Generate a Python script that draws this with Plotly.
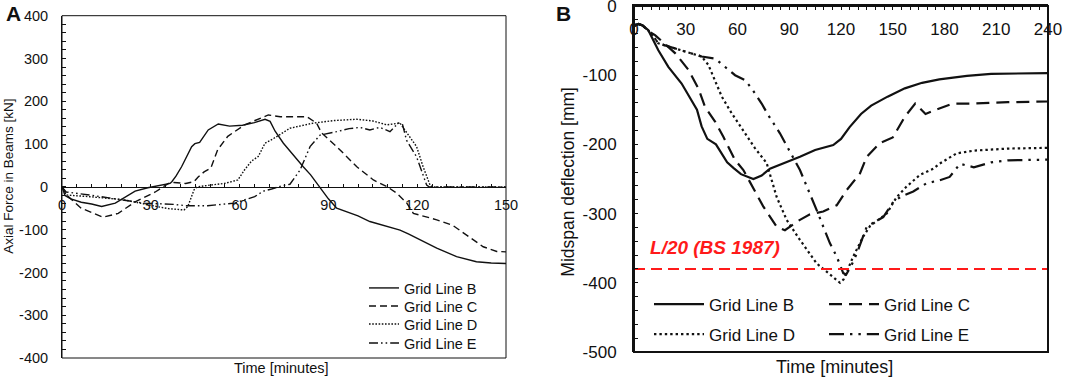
import plotly.graph_objects as go

FONT = "Liberation Sans, Arial, sans-serif"

# ---------------- Panel A : axial force in beams [kN] vs time [min] ----------------
a_t_B = [0, 1, 3, 6.5, 10, 13.4, 18, 24.7, 29, 33, 36.5, 37.1, 38.5, 40.4, 42, 43.8, 44.9, 46.5, 49.4,
         52.8, 56.6, 61, 65, 68.6, 70.3, 72, 74.8, 78, 81.5, 84, 87, 90, 92.8, 95, 100, 104, 109,
         114.2, 117, 120.9, 126.6, 133.3, 140, 145, 150]
a_v_B = [0, -20, -28, -36, -40, -46, -38, -10, -2, 3, 8, 12, 25, 47, 70, 94, 101, 104, 133,
         147, 142, 144, 150, 158, 153, 130, 102, 75, 47, 28, 0, -28, -50, -56, -68, -81, -90,
         -101, -110, -124, -143, -163, -175, -178, -179]

a_t_C = [0, 1.5, 6.5, 13.9, 19, 24.7, 31.5, 36, 37.8, 41.8, 44.6, 46, 48, 50.3, 52.6, 56, 61.7, 65,
         69.7, 73.7, 78, 82.7, 86, 87.7, 92.8, 99.6, 105.2, 109.7, 113.1, 116.5, 118.7, 126.6, 132,
         135.6, 142.3, 146.9, 150]
a_v_C = [0, -19, -50, -71, -62, -35, -12, 8, 10, 8, 12, 23, 35, 44, 87, 118, 145, 155,
         168, 164, 164, 164, 149, 126, 94, 47, 16, 1, -15, -38, -62, -77, -90,
         -108, -140, -151, -152]

a_t_D = [0, 1.4, 9.3, 20.7, 32, 36, 41.2, 42.5, 44.6, 45.7, 50, 54.9, 59.4, 61.7, 64, 66.3, 68.6,
         72, 77, 84.9, 92, 99.6, 105, 109.7, 114.2, 116.5, 119.8, 122, 124.3, 125, 130, 140, 150]
a_v_D = [0, -19, -23, -30, -46, -51, -54, -46, -7, 0, 4, 8, 16, 40, 60, 71, 102,
         115, 137, 149, 155, 158, 154, 145, 149, 126, 94, 47, 5, 0, 0, 0, 0]

a_t_E = [0, 1.4, 9.3, 20.7, 27.6, 37.8, 42, 49.2, 58.3, 65.1, 68, 70.8, 74, 77, 80.4, 83.8, 87.2,
         92.8, 97, 100.7, 104, 107.4, 110.8, 113.6, 115, 116.4, 119.8, 123.2, 124, 130, 140, 150]
a_v_E = [0, -12, -19, -30, -38, -41, -44, -44, -38, -23, -10, -5, 2, 6, 39, 94, 121,
         129, 136, 139, 133, 139, 129, 149, 147, 109, 70, 4, 0, 0, 0, 0]

a_xticks = [0, 30, 60, 90, 120, 150]
a_xticklabels = ["0", "30", "60", "90", "120", "150"]
a_yticks = [-400, -300, -200, -100, 0, 100, 200, 300, 400]
a_yticklabels = ["-400", "-300", "-200", "-100", "0", "100", "200", "300", "400"]

# ---------------- Panel B : midspan deflection [mm] vs time [min] ----------------
b_t_B = [0, 2.5, 5, 8.3, 14.1, 19.9, 27.6, 33.4, 36.5, 39.2, 42.5, 47.5, 54, 57.6, 62, 69.2, 74,
         78.8, 90, 96.2, 105, 115.5, 120, 125, 131.6, 137.5, 147, 157, 167, 177, 193, 207, 240]
b_v_B = [-29, -26, -28, -35, -64, -88, -112, -136, -150, -174, -192, -200, -226, -234, -243, -250, -245,
         -235, -224, -218, -208, -201, -192, -175, -156, -144, -131, -119, -111, -106, -101, -98, -97]

b_t_C = [0, 2.5, 5, 8, 12.2, 19, 23.8, 31.5, 37.3, 41.2, 47, 51.8, 58.4, 63.4, 69, 75, 82.7, 87.5,
         96.2, 102, 109.7, 117.5, 123.3, 131, 134.9, 142.6, 150, 157, 163, 169, 177, 185, 197, 216.7, 240]
b_v_C = [-29, -26, -28, -36, -42, -58, -68, -92, -119, -146, -167, -189, -222, -237, -263, -290, -319, -324,
         -309, -301, -297, -288, -266, -242, -218, -198, -190, -160, -141, -156, -148, -141, -141, -139, -138]

b_t_D = [0, 2.5, 5, 10.2, 14.1, 27.6, 39.2, 43.1, 47, 50.9, 56.6, 62.4, 70, 76.9, 82.7, 88.5, 96.2,
         105.9, 115.5, 119.4, 121.5, 127.1, 132.9, 136.8, 146.5, 152.3, 158, 165.8, 173.5, 177, 187,
         197, 217, 240]
b_v_D = [-29, -26, -28, -40, -54, -64, -73, -85, -107, -131, -155, -177, -205, -227, -276, -309, -338,
         -372, -391, -400, -395, -362, -333, -318, -300, -276, -261, -244, -235, -228, -213,
         -209, -206, -205]

b_t_E = [0, 2.5, 5, 10.2, 14.1, 27.6, 39.2, 47, 52.8, 58.6, 64.3, 68.2, 74, 77.9, 84.6, 96.2, 105.9,
         113.6, 117.5, 121.3, 123, 126, 129.1, 134.9, 144.5, 150.3, 155, 161.9, 169.7, 177, 183, 189,
         197, 207, 217, 240]
b_v_E = [-29, -26, -28, -40, -54, -64, -73, -76, -88, -100, -107, -119, -141, -158, -184, -237, -295,
         -343, -362, -386, -388, -375, -358, -319, -305, -283, -275, -268, -256, -252, -247, -228,
         -233, -226, -223, -222]

b_limit_t = [0, 240]
b_limit_v = [-380, -380]   # L/20 (BS 1987)

b_xticks = [0, 30, 60, 90, 120, 150, 180, 210, 240]
b_xticklabels = ["0", "30", "60", "90", "120", "150", "180", "210", "240"]
b_yticks = [-500, -400, -300, -200, -100, 0]
b_yticklabels = ["-500", "-400", "-300", "-200", "-100", "0"]

series_names = ["Grid Line B", "Grid Line C", "Grid Line D", "Grid Line E"]

# ---------------- figure geometry ----------------
W, H = 1065, 379


def px(x):  # screen x -> paper fraction
    return x / W


def py(y):  # screen y -> paper fraction
    return 1 - y / H


A_dom_x = [px(62), px(506)]
A_dom_y = [py(358), py(15.7)]
B_dom_x = [px(634), px(1048)]
B_dom_y = [py(352), py(6)]

fig = go.Figure()

a_dash = ["solid", "7px,4px", "1.6px,1.6px", "9px,3px,1.6px,3px,1.6px,3px"]
b_dash = ["solid", "13px,7px", "2.4px,3px", "15px,6px,2.4px,6px,2.4px,6px"]

a_data = [(a_t_B, a_v_B), (a_t_C, a_v_C), (a_t_D, a_v_D), (a_t_E, a_v_E)]
b_data = [(b_t_B, b_v_B), (b_t_C, b_v_C), (b_t_D, b_v_D), (b_t_E, b_v_E)]

a_legends = ["legend", "legend4", "legend5", "legend6"]
for name, (t, v), d, lg in zip(series_names, a_data, a_dash, a_legends):
    fig.add_trace(go.Scatter(x=t, y=v, mode="lines", name=name, xaxis="x", yaxis="y",
                             line=dict(color="#111", width=1.4, dash=d), legend=lg))

b_legends = ["legend2", "legend2", "legend3", "legend3"]
for name, (t, v), d, lg in zip(series_names, b_data, b_dash, b_legends):
    fig.add_trace(go.Scatter(x=t, y=v, mode="lines", name=name, xaxis="x2", yaxis="y2",
                             line=dict(color="#111", width=2.2, dash=d), legend=lg))

fig.add_trace(go.Scatter(x=b_limit_t, y=b_limit_v, mode="lines", xaxis="x2", yaxis="y2",
                         line=dict(color="#ff1a1a", width=2, dash="11px,6px"), showlegend=False,
                         hoverinfo="skip"))

tickfont_a = dict(family=FONT, size=14.5, color="#111")
tickfont_b = dict(family=FONT, size=17, color="#111")

legA_font = dict(family=FONT, size=14.5, color="#111")
legB_font = dict(family=FONT, size=17, color="#111")


def legA(row_center):
    return dict(x=px(364), y=py(row_center - 15), xanchor="left", yanchor="top",
                bgcolor="rgba(0,0,0,0)", font=legA_font, itemwidth=30)


def legB(row_center):
    return dict(x=px(649), y=py(row_center - 16.5), xanchor="left", yanchor="top",
                orientation="h", bgcolor="rgba(0,0,0,0)", font=legB_font,
                itemwidth=50, entrywidth=110, entrywidthmode="pixels")


def label(text, x, y, size, angle=0, color="#111"):
    return dict(text=text, x=px(x), y=py(y), xref="paper", yref="paper", xanchor="center",
                yanchor="middle", textangle=angle, showarrow=False,
                font=dict(family=FONT, size=size, color=color))


fig.update_layout(
    width=W, height=H,
    margin=dict(l=0, r=0, t=0, b=0, autoexpand=False),
    paper_bgcolor="white", plot_bgcolor="white",
    font=dict(family=FONT, color="#111"),
    xaxis=dict(domain=A_dom_x, range=[0, 150], anchor="free", position=(A_dom_y[0] + A_dom_y[1]) / 2,
               tickvals=a_xticks, ticktext=a_xticklabels, ticks="inside", ticklen=3, tickcolor="#111",
               minor=dict(dtick=5, ticks="inside", ticklen=3, tickcolor="#111"),
               showline=True, linecolor="#111", linewidth=1, showgrid=False, zeroline=False,
               tickfont=tickfont_a, ticklabelstandoff=5, automargin=False, ticklabeloverflow="allow"),
    yaxis=dict(domain=A_dom_y, range=[-400, 400], anchor="x", position=A_dom_x[0],
               tickvals=a_yticks, ticktext=a_yticklabels, ticks="inside", ticklen=4, tickcolor="#111",
               minor=dict(dtick=20, ticks="inside", ticklen=4, tickcolor="#111"),
               showline=True, linecolor="#111", linewidth=1, showgrid=False, zeroline=False,
               tickfont=tickfont_a, ticklabelstandoff=10, automargin=False, ticklabeloverflow="allow"),
    xaxis2=dict(domain=B_dom_x, range=[0, 240], anchor="y2", side="top",
                tickvals=b_xticks, ticktext=b_xticklabels, ticks="inside", ticklen=4, tickcolor="#111",
                minor=dict(dtick=5, ticks="inside", ticklen=4, tickcolor="#111"),
                ticklabelposition="inside", ticklabelstandoff=14, ticklabeloverflow="allow",
                showline=True, linecolor="#111", linewidth=2, showgrid=False, zeroline=False,
                tickfont=tickfont_b, automargin=False),
    yaxis2=dict(domain=B_dom_y, range=[-500, 0], anchor="x2",
                tickvals=b_yticks, ticktext=b_yticklabels, ticks="inside", ticklen=4, tickcolor="#111",
                minor=dict(dtick=20, ticks="inside", ticklen=4, tickcolor="#111"),
                showline=True, linecolor="#111", linewidth=2, showgrid=False, zeroline=False,
                tickfont=tickfont_b, ticklabelstandoff=12, automargin=False, ticklabeloverflow="allow"),
    legend=legA(287),
    legend4=legA(305),
    legend5=legA(323),
    legend6=legA(342),
    legend2=legB(303),
    legend3=legB(333),
    shapes=[
        dict(type="rect", xref="x domain", yref="y domain", x0=0, x1=1, y0=0, y1=1,
             line=dict(color="#111", width=1)),
        dict(type="rect", xref="x2 domain", yref="y2 domain", x0=0, x1=1, y0=0, y1=1,
             line=dict(color="#111", width=2)),
    ],
    annotations=[
        label("<b>A</b>", 13, 13, 21),
        label("<b>B</b>", 563, 13, 21),
        label("Axial Force in Beams [kN]", 9, 176.7, 13.5, angle=-90),
        label("Time [minutes]", 281, 368, 14.5),
        label("Midspan deflection [mm]", 568, 181.7, 17.5, angle=-90),
        label("Time [minutes]", 834, 367, 18),
        dict(text="<b><i>L/20 (BS 1987)</i></b>", x=8, y=-349, xref="x2", yref="y2",
             xanchor="left", yanchor="middle", showarrow=False,
             font=dict(family=FONT, size=19, color="#ff1a1a")),
    ],
)

# remove the default 8px page margin so the figure fills the window exactly
fig.write_html("out.html", config={"displayModeBar": False},
               post_script="document.body.style.margin='0px';")
